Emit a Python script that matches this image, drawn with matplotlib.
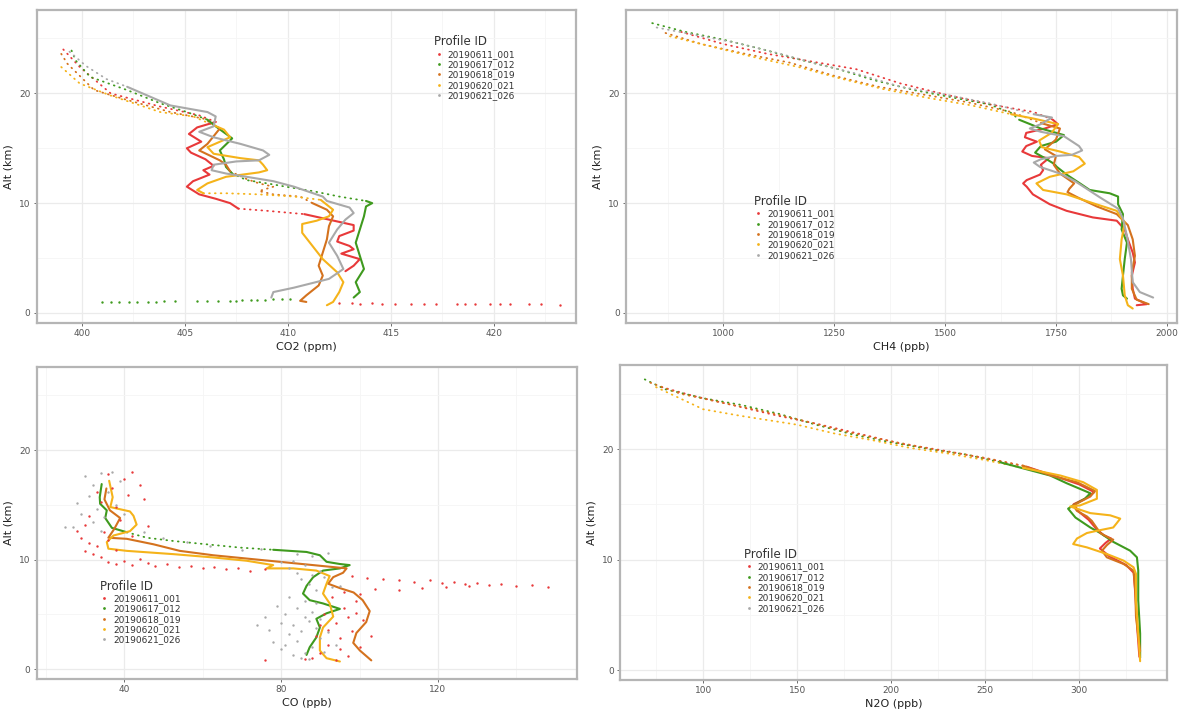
import matplotlib
matplotlib.use("Agg")
import matplotlib.pyplot as plt
from matplotlib.lines import Line2D
from matplotlib.ticker import AutoMinorLocator

profile_ids = ["20190611_001", "20190617_012", "20190618_019", "20190620_021", "20190621_026"]
profile_colors = ["#e8393a", "#3f9a1e", "#d4721e", "#f5b31a", "#a9a9a9"]

# ---- CO2 (ppm) vs altitude (km): (value, alt) ----
co2_solid = {
    "20190611_001": [
        [(406.5, 17.4), (405.6, 16.9), (405.2, 16.3), (405.8, 15.6), (405.1, 15.0), (405.3, 14.6),
         (406.0, 14.0), (406.4, 13.4), (405.9, 13.0), (406.2, 12.6), (405.4, 12.0), (405.1, 11.5),
         (405.7, 10.8), (406.5, 10.4), (407.2, 10.0), (407.6, 9.5)],
        [(410.8, 9.0), (412.0, 8.5), (413.2, 8.0), (413.2, 7.5), (412.5, 7.0), (412.4, 6.5),
         (413.0, 6.1), (413.2, 5.8), (412.6, 5.4), (413.5, 4.9), (413.2, 4.3), (412.8, 3.8)],
    ],
    "20190617_012": [
        [(406.1, 17.6), (406.5, 17.0), (407.3, 15.9), (406.7, 14.8), (406.9, 14.0), (407.0, 13.3),
         (407.3, 12.7)],
        [(413.8, 10.2), (414.1, 10.0), (413.8, 9.7), (413.7, 8.8), (413.5, 7.6), (413.3, 6.4),
         (413.5, 5.2), (413.7, 4.0), (413.3, 2.8), (413.5, 1.9), (413.2, 1.4)],
    ],
    "20190618_019": [
        [(406.7, 16.8), (406.1, 15.4), (405.7, 14.8), (406.7, 13.9), (407.0, 13.5), (407.2, 12.9)],
        [(411.2, 10.0), (411.9, 9.4), (412.2, 8.8), (412.0, 7.9), (411.9, 6.7), (411.7, 5.5),
         (411.5, 4.3), (411.7, 3.4), (411.5, 2.5), (410.9, 1.6), (410.6, 1.1), (410.9, 1.0)],
    ],
    "20190620_021": [
        [(406.4, 17.1), (406.9, 16.7), (407.2, 16.0), (406.1, 15.1), (406.4, 14.5), (407.7, 14.1),
         (408.6, 13.9), (408.8, 13.5), (409.0, 13.0), (408.6, 12.8), (407.0, 12.4), (406.1, 11.8),
         (405.6, 11.2), (405.9, 10.9)],
        [(411.6, 10.3), (412.2, 9.4), (412.0, 8.8), (411.4, 8.4), (410.7, 8.1), (410.7, 7.3),
         (411.2, 6.1), (411.7, 4.9), (412.4, 3.7), (412.7, 2.8), (412.5, 1.9), (412.2, 1.0), (411.9, 0.7)],
    ],
    "20190621_026": [
        [(402.2, 20.6), (404.3, 18.9), (406.1, 18.3), (406.5, 17.9), (406.4, 17.0), (405.7, 16.5),
         (406.4, 16.0), (407.7, 15.4), (408.8, 14.8), (409.1, 14.4), (408.6, 13.9), (407.5, 13.8),
         (406.4, 13.5), (406.3, 13.0), (407.0, 12.7), (408.0, 12.4), (409.3, 12.0), (410.3, 11.5),
         (411.7, 10.6), (411.9, 10.2), (413.0, 9.6), (413.2, 9.1), (412.8, 8.5), (412.4, 7.6),
         (412.0, 6.4), (412.4, 5.2), (412.7, 4.0), (412.0, 3.1), (410.3, 2.3), (409.3, 1.9), (409.2, 1.4)],
    ],
}
co2_dotted = {
    "20190611_001": [
        [(399.1, 24.0), (399.9, 22.4), (401.4, 20.0), (403.8, 18.8), (405.7, 18.0), (406.5, 17.4)],
        [(407.6, 9.5), (409.0, 9.3), (410.8, 9.0)],
    ],
    "20190617_012": [
        [(399.5, 23.9), (399.7, 23.0), (400.4, 21.5), (402.2, 20.3), (403.8, 19.1), (405.1, 18.3), (406.1, 17.6)],
        [(407.3, 12.7), (408.0, 12.1), (409.0, 11.8), (409.9, 11.5), (411.2, 11.1), (412.5, 10.6), (413.8, 10.2)],
    ],
    "20190618_019": [
        [(399.0, 23.6), (399.3, 22.7), (400.6, 20.3), (402.2, 19.4), (404.3, 18.3), (405.9, 17.7), (406.7, 16.8)],
        [(407.2, 12.9), (408.0, 12.2), (408.6, 11.8), (409.3, 11.5), (408.6, 11.1), (409.3, 10.8),
         (410.6, 10.6), (411.2, 10.0)],
    ],
    "20190620_021": [
        [(399.0, 22.4), (399.9, 20.9), (401.4, 19.8), (403.8, 18.3), (405.4, 17.9), (406.4, 17.1)],
        [(405.9, 10.9), (407.0, 10.9), (408.6, 10.8), (410.3, 10.6), (411.6, 10.3)],
    ],
    "20190621_026": [
        [(399.4, 23.8), (400.2, 22.5), (401.2, 21.3), (402.2, 20.6)],
    ],
}
co2_points = {
    "20190611_001": [(412.5, 0.9), (413.1, 0.9), (413.5, 0.8), (414.1, 0.9), (414.6, 0.8), (415.2, 0.8),
                     (416.0, 0.8), (416.6, 0.8), (417.2, 0.8), (418.2, 0.8), (418.6, 0.8), (419.1, 0.8),
                     (419.8, 0.8), (420.3, 0.8), (420.8, 0.8), (421.7, 0.8), (422.3, 0.8), (423.2, 0.7)],
    "20190617_012": [(401.0, 0.95), (401.4, 0.95), (401.8, 1.0), (402.3, 1.0), (402.7, 1.0), (403.2, 1.0),
                     (403.6, 1.0), (404.0, 1.05), (404.5, 1.05), (405.6, 1.05), (406.1, 1.1), (406.6, 1.1),
                     (407.2, 1.1), (407.5, 1.1), (407.8, 1.15), (408.2, 1.15), (408.5, 1.2), (408.9, 1.2),
                     (409.3, 1.25), (409.7, 1.25), (410.1, 1.3)],
}

# ---- CH4 (ppb) ----
ch4_solid = {
    "20190611_001": [[(1743, 17.6), (1754, 17.2), (1725, 16.8), (1683, 16.4), (1680, 16.0), (1707, 15.6),
                      (1683, 15.2), (1674, 14.7), (1696, 14.3), (1734, 14.1), (1716, 13.5), (1721, 13.0),
                      (1714, 12.6), (1684, 12.1), (1676, 11.8), (1684, 11.5), (1698, 10.8), (1736, 9.9),
                      (1774, 9.3), (1833, 8.7), (1887, 8.4), (1905, 7.6), (1912, 6.7), (1923, 5.5),
                      (1928, 4.6), (1921, 3.4), (1923, 2.2), (1928, 1.3), (1955, 0.8), (1932, 0.7)]],
    "20190617_012": [[(1667, 17.6), (1716, 16.8), (1768, 16.2), (1750, 15.6), (1716, 15.2), (1703, 14.6),
                      (1725, 14.1), (1745, 13.6), (1752, 13.3), (1774, 12.6), (1804, 11.8), (1826, 11.2),
                      (1871, 10.9), (1890, 10.6), (1890, 9.9), (1901, 9.0), (1898, 7.6), (1910, 6.4),
                      (1905, 4.9), (1901, 3.4), (1898, 2.2), (1901, 1.6), (1910, 1.3)]],
    "20190618_019": [[(1716, 17.3), (1759, 16.8), (1750, 15.8), (1725, 14.9), (1750, 14.3), (1745, 13.5),
                      (1759, 12.7), (1791, 11.8), (1780, 11.3), (1776, 11.0), (1800, 10.5), (1842, 9.7),
                      (1887, 9.0), (1912, 8.0), (1923, 6.7), (1928, 5.2), (1921, 3.7), (1921, 2.2),
                      (1932, 1.2), (1959, 0.8)]],
    "20190620_021": [[(1649, 18.1), (1700, 17.7), (1755, 17.2), (1740, 16.4), (1712, 15.7), (1718, 15.1),
                      (1759, 14.7), (1802, 14.2), (1815, 13.6), (1789, 12.9), (1736, 12.4), (1706, 11.8),
                      (1721, 11.2), (1774, 10.8), (1833, 10.0), (1887, 9.3), (1905, 8.2), (1898, 6.7),
                      (1894, 4.9), (1901, 3.4), (1905, 1.6), (1912, 0.7), (1923, 0.4)]],
    "20190621_026": [[(1700, 18.1), (1741, 17.8), (1716, 17.2), (1691, 16.8), (1716, 16.5), (1768, 16.1),
                      (1802, 15.2), (1809, 14.8), (1786, 14.4), (1750, 14.3), (1716, 14.0), (1700, 13.7),
                      (1714, 13.3), (1759, 12.7), (1793, 12.0), (1850, 10.5), (1890, 9.5), (1901, 8.6),
                      (1910, 7.0), (1919, 4.9), (1923, 2.8), (1939, 1.9), (1969, 1.4)]],
}
ch4_dotted = {
    "20190611_001": [[(905, 25.6), (1000, 24.5), (1100, 23.6), (1200, 22.9), (1300, 22.2), (1400, 20.9),
                      (1500, 19.9), (1600, 19.0), (1700, 18.3), (1743, 17.6)]],
    "20190617_012": [[(840, 26.4), (915, 25.6), (1000, 24.9), (1090, 24.0), (1180, 23.0), (1260, 22.2),
                      (1340, 21.2), (1430, 20.3), (1520, 19.6), (1600, 19.0), (1650, 18.2), (1667, 17.6)]],
    "20190618_019": [[(870, 25.5), (950, 24.5), (1050, 23.6), (1150, 22.8), (1250, 21.6), (1350, 20.6),
                      (1450, 19.9), (1550, 19.2), (1650, 18.3), (1716, 17.3)]],
    "20190620_021": [[(880, 25.2), (980, 24.2), (1080, 23.2), (1170, 22.4), (1260, 21.4), (1360, 20.4),
                      (1460, 19.6), (1560, 18.9), (1649, 18.1)]],
    "20190621_026": [[(850, 26.0), (940, 25.3), (1030, 24.6), (1120, 23.7), (1210, 22.7), (1300, 21.8),
                      (1400, 20.6), (1500, 19.9), (1600, 19.1), (1700, 18.1)]],
}

# ---- CO (ppb) ----
co_solid = {
    "20190617_012": [
        [(34.3, 16.9), (33.8, 15.7), (33.9, 15.1), (35.6, 14.5), (35.2, 13.8), (36.9, 12.9), (40.7, 12.5)],
        [(78.0, 10.9), (86.5, 10.7), (89.9, 10.4), (91.6, 9.8), (95.0, 9.6), (97.5, 9.5), (95.0, 9.2),
         (90.7, 9.0), (88.2, 8.4), (86.5, 7.6), (85.6, 6.9), (87.3, 6.3), (90.7, 6.0), (95.0, 5.5),
         (91.6, 5.1), (89.0, 4.6), (89.9, 3.8), (89.0, 2.9), (87.3, 2.0), (86.5, 1.3)],
    ],
    "20190618_019": [
        [(35.5, 16.5), (35.0, 15.5), (36.4, 14.5), (39.0, 13.8), (37.5, 12.8), (36.0, 12.0), (40.7, 11.9),
         (47.5, 11.4), (54.2, 10.8), (62.7, 10.4), (71.2, 10.1), (79.7, 9.8), (88.2, 9.5), (96.7, 9.2),
         (95.8, 8.8), (93.3, 8.4), (92.0, 7.8), (95.0, 7.4), (98.5, 7.0), (100.8, 6.3), (102.6, 5.3),
         (101.7, 4.3), (99.2, 3.3), (98.4, 2.4), (100.1, 1.7), (103.0, 0.8)],
    ],
    "20190620_021": [
        [(36.2, 17.2), (37.1, 15.7), (36.5, 14.8), (41.5, 14.4), (42.4, 14.0), (43.2, 13.2), (41.5, 12.6),
         (37.3, 12.2), (35.6, 11.6), (36.0, 11.0), (40.7, 10.8), (52.6, 10.5), (62.7, 10.2), (71.2, 9.9),
         (78.0, 9.5), (76.3, 9.2), (83.1, 9.2), (89.0, 9.0), (92.4, 8.5), (91.6, 7.8), (90.7, 6.9),
         (92.4, 6.0), (93.3, 4.8), (90.7, 3.8), (89.9, 2.9), (89.9, 1.7), (91.6, 1.0), (95.0, 0.7)],
    ],
}
co_dotted = {
    "20190617_012": [[(40.7, 12.5), (45.8, 12.0), (52.6, 11.7), (61.0, 11.4), (69.5, 11.1), (78.0, 10.9)]],
}
co_points = {
    "20190611_001": [
        (30, 10.8), (31, 11.5), (32, 10.5), (29, 12.0), (33, 11.2), (34, 10.2), (35, 12.5), (30, 13.2),
        (28, 12.6), (36, 11.8), (38, 10.9), (31, 14.0), (34, 15.3), (37, 16.5), (40, 17.4), (42, 18.0),
        (44, 16.8), (41, 15.9), (38, 14.8), (36, 17.8), (33, 16.2), (45, 15.5), (46, 13.1), (42, 12.2),
        (39, 13.6), (36, 9.8), (38, 9.6), (40, 9.9), (42, 9.5), (44, 10.1), (46, 9.7), (48, 9.4),
        (51, 9.6), (54, 9.3), (57, 9.4), (60, 9.2), (63, 9.3), (66, 9.1), (69, 9.2), (72, 9.0), (76, 9.1),
        (98, 8.5), (102, 8.3), (106, 8.2), (110, 8.1), (114, 8.0), (118, 8.1), (121, 7.9), (124, 8.0),
        (127, 7.8), (130, 7.9), (133, 7.7), (136, 7.8), (140, 7.6), (144, 7.7), (148, 7.5), (104, 7.3),
        (110, 7.2), (116, 7.4), (122, 7.5), (128, 7.6), (96, 7.0), (100, 6.9), (88, 1.0), (90, 1.5),
        (92, 2.2), (95, 2.8), (98, 3.5), (94, 4.2), (91, 5.0), (96, 5.6), (99, 6.2), (93, 6.6), (89, 3.0),
        (97, 1.2), (100, 2.0), (86, 0.9), (94, 0.8), (101, 4.5), (97, 4.8), (92, 3.6), (95, 1.8),
        (99, 5.1), (90, 4.0), (103, 3.0), (76, 0.8),
    ],
    "20190621_026": [
        (30, 17.6), (32, 16.8), (34, 17.9), (28, 15.2), (31, 15.8), (33, 14.6), (36, 16.2), (38, 15.0),
        (35, 13.9), (27, 13.0), (29, 14.2), (37, 18.0), (39, 17.2), (32, 13.4), (25, 13.0), (40, 14.2),
        (34, 12.6), (45, 12.5), (50, 12.0), (56, 11.6), (62, 11.2), (70, 10.9), (75, 11.0), (84, 10.5),
        (88, 10.3), (92, 10.6), (80, 9.8), (82, 9.2), (84, 8.8), (86, 9.5), (88, 8.6), (90, 9.0),
        (85, 8.2), (83, 9.9), (87, 7.8), (91, 8.4), (93, 7.5), (89, 7.2), (95, 7.6), (78, 2.5),
        (80, 1.8), (82, 3.2), (84, 2.6), (86, 1.5), (88, 2.0), (90, 2.8), (83, 4.0), (85, 3.5),
        (87, 4.4), (89, 3.8), (81, 5.0), (84, 5.6), (86, 6.2), (88, 5.2), (82, 6.6), (79, 5.8),
        (76, 4.8), (80, 4.2), (85, 1.0), (87, 0.9), (91, 1.6), (92, 3.4), (94, 2.2), (83, 1.3),
        (77, 3.6), (81, 2.2), (86, 4.8), (89, 6.0), (90, 4.6), (74, 4.0),
    ],
}

# ---- N2O (ppb) ----
n2o_solid = {
    "20190611_001": [[(272, 18.4), (288, 17.5), (300, 16.8), (308, 16.1), (303, 15.5), (297, 15.0), (300, 14.3),
                      (305, 13.6), (309, 12.8), (313, 12.2), (317, 11.9), (314, 11.5), (311, 11.0), (316, 10.3),
                      (325, 9.5), (329, 8.8), (330, 6.5), (331, 3.5), (332, 1.2)]],
    "20190617_012": [[(258, 18.8), (284.6, 17.6), (293.4, 16.9), (305.9, 16.0), (303.0, 15.5), (296.8, 14.9),
                      (294.1, 14.6), (298.0, 13.8), (305.9, 12.9), (311.2, 12.4), (318.1, 11.6), (327.1, 10.8),
                      (330.7, 10.2), (331.4, 9.0), (331.4, 6.3), (332.4, 3.3), (332.4, 1.1)]],
    "20190618_019": [[(270, 18.5), (285, 17.6), (298.8, 17.0), (308.4, 16.2), (305.9, 15.7), (296.8, 14.9),
                      (298.8, 14.4), (304.1, 13.9), (306.7, 13.5), (311.2, 12.4), (316.5, 11.9), (318.1, 11.8),
                      (314.7, 11.3), (312.1, 10.8), (314.7, 10.2), (323.6, 9.6), (328.9, 9.0), (329.8, 7.2),
                      (330.2, 4.8), (332.4, 1.7)]],
    "20190620_021": [[(270, 18.3), (290, 17.6), (302.1, 17.0), (309.4, 16.3), (309.4, 15.5), (300.5, 14.9),
                      (295.2, 14.8), (305.9, 14.2), (316.5, 14.0), (321.8, 13.7), (320.0, 13.3), (318.1, 12.9),
                      (309.4, 12.6), (304.1, 12.4), (298.8, 11.9), (296.8, 11.4), (304.1, 11.1), (314.7, 10.5),
                      (323.6, 9.9), (328.9, 9.3), (330.2, 8.7), (330.2, 6.3), (331.4, 3.3), (332.4, 0.8)]],
}
n2o_dotted = {
    "20190611_001": [[(78, 25.6), (95, 24.8), (115, 24.0), (140, 23.0), (160, 22.3), (185, 21.3), (205, 20.5),
                      (230, 19.8), (255, 19.0), (272, 18.4)]],
    "20190617_012": [[(69, 26.3), (80, 25.4), (100, 24.6), (120, 24.0), (140, 23.2), (160, 22.2), (180, 21.3),
                      (200, 20.6), (220, 20.0), (240, 19.5), (258, 18.8)]],
    "20190618_019": [[(72, 26.0), (88, 25.0), (110, 24.2), (135, 23.3), (155, 22.5), (175, 21.6), (200, 20.7),
                      (225, 19.9), (250, 19.2), (270, 18.5)]],
    "20190620_021": [[(75, 25.6), (90, 24.4), (100, 23.6), (120, 23.0), (150, 22.2), (170, 21.4), (190, 20.8),
                      (210, 20.1), (230, 19.6), (250, 19.0), (270, 18.3)]],
}

panels = [
    # data, x label, x ticks, x limits, axes rect, legend anchor
    (co2_solid, co2_dotted, co2_points, "CO2 (ppm)", [400, 405, 410, 415, 420], (397.8, 424.0),
     [0.031, 0.546, 0.4576, 0.440], (0.73, 0.93)),
    (ch4_solid, ch4_dotted, {}, "CH4 (ppb)", [1000, 1250, 1500, 1750, 2000], (781, 2022),
     [0.531, 0.546, 0.467, 0.440], (0.225, 0.42)),
    (co_solid, co_dotted, co_points, "CO (ppb)", [40, 80, 120], (17.7, 155.3),
     [0.031, 0.045, 0.458, 0.439], (0.11, 0.33)),
    (n2o_solid, n2o_dotted, {}, "N2O (ppb)", [100, 150, 200, 250, 300], (55.9, 346.8),
     [0.526, 0.0436, 0.464, 0.443], (0.22, 0.43)),
]

fig = plt.figure(figsize=(11.79, 7.11), dpi=100)

for solid, dotted, points, xlabel, xticks, xlim, rect, leg_at in panels:
    ax = fig.add_axes(rect)
    for pid, col in zip(profile_ids, profile_colors):
        for seg in dotted.get(pid, []):
            xs, ys = zip(*seg)
            ax.plot(xs, ys, color=col, lw=1.3, linestyle=(0, (0.4, 2.8)),
                    dash_capstyle="round", zorder=2)
        for seg in solid.get(pid, []):
            xs, ys = zip(*seg)
            ax.plot(xs, ys, color=col, lw=1.5, solid_capstyle="round",
                    solid_joinstyle="round", zorder=3)
        if pid in points:
            xs, ys = zip(*points[pid])
            ax.scatter(xs, ys, s=3, color=col, linewidths=0, zorder=4)

    ax.set_xlim(*xlim)
    ax.set_ylim(-0.9, 27.6)
    ax.set_xticks(xticks)
    ax.set_yticks([0, 10, 20])
    ax.xaxis.set_minor_locator(AutoMinorLocator(2))
    ax.yaxis.set_minor_locator(AutoMinorLocator(2))
    ax.grid(which="major", color="#ebebeb", lw=0.9, zorder=0)
    ax.grid(which="minor", color="#f5f5f5", lw=0.6, zorder=0)
    ax.set_axisbelow(True)
    ax.tick_params(which="major", length=2.5, width=0.6, color="#555555",
                   labelsize=6.5, labelcolor="#555555", pad=2)
    ax.tick_params(which="minor", length=0)
    for sp in ax.spines.values():
        sp.set_color("#b5b5b5")
        sp.set_linewidth(1.6)
    ax.set_xlabel(xlabel, fontsize=8, color="#222222", labelpad=3)
    ax.set_ylabel("Alt (km)", fontsize=8, color="#222222", labelpad=4)

    handles = [Line2D([], [], ls="none", marker="o", markersize=2, color=c, markeredgewidth=0)
               for c in profile_colors]
    leg = ax.legend(handles, profile_ids, title="Profile ID", loc="upper left",
                    bbox_to_anchor=leg_at, frameon=False, fontsize=6.5,
                    title_fontsize=8.5, handlelength=1.0, handletextpad=0.5,
                    labelspacing=0.15, borderaxespad=0)
    leg._legend_box.align = "left"
    for t in leg.get_texts():
        t.set_color("#333333")
    leg.get_title().set_color("#333333")

fig.savefig("out.png", dpi=100)
